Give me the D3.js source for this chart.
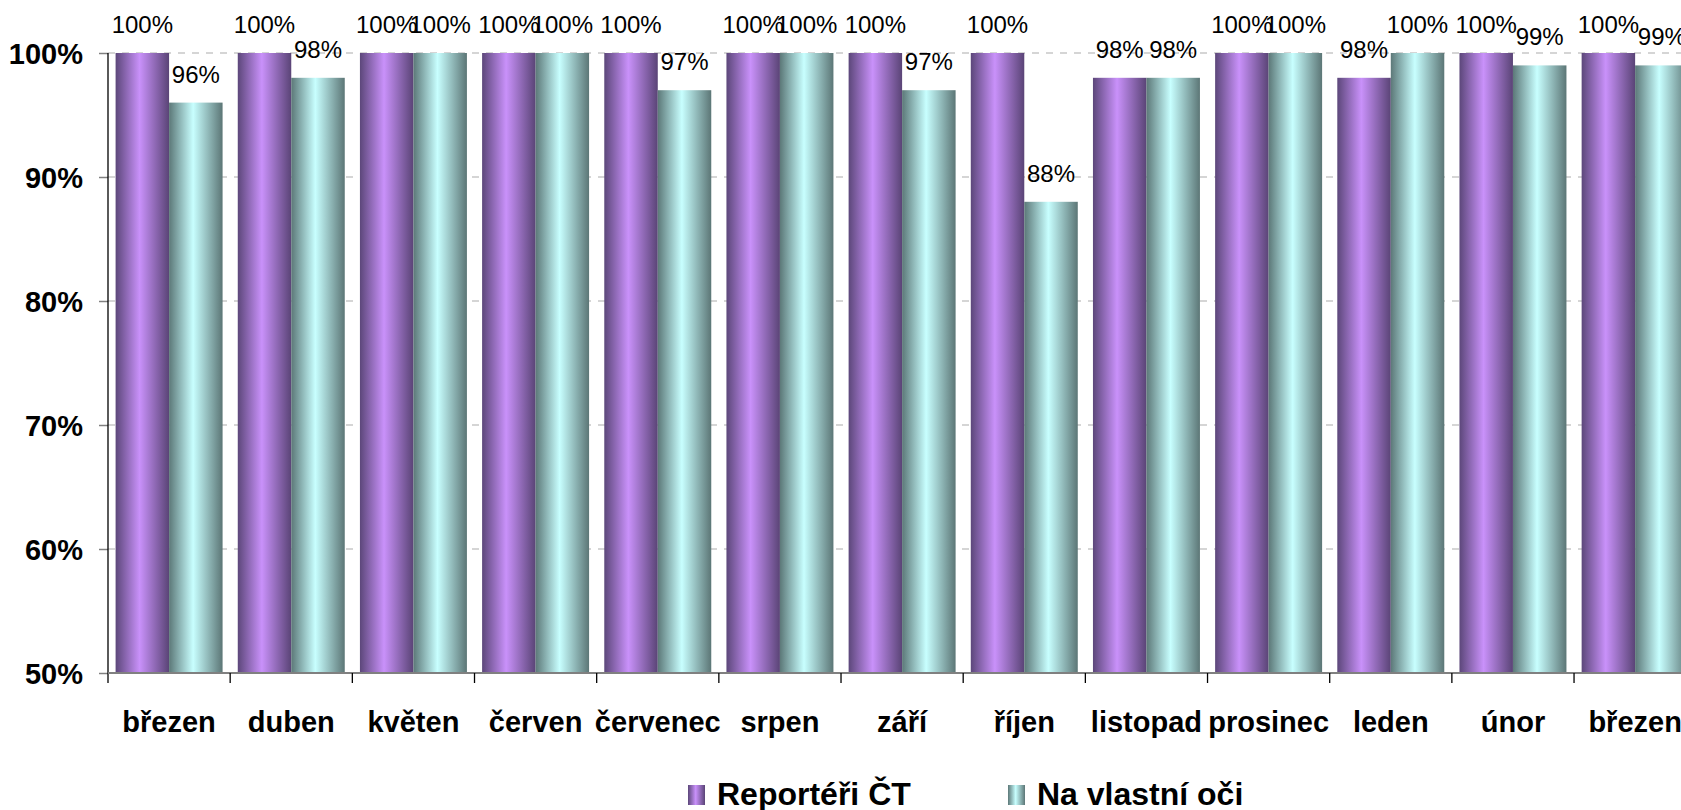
<!DOCTYPE html>
<html><head><meta charset="utf-8">
<script src="https://cdn.jsdelivr.net/npm/d3@7/dist/d3.min.js"></script>
<style>body{margin:0;background:#fff}svg{display:block}text{font-family:"Liberation Sans",Arial,sans-serif}</style>
</head><body><svg id="c" width="1681" height="810"></svg>
<script>
const categories = ["březen","duben","květen","červen","červenec","srpen","září","říjen","listopad","prosinec","leden","únor","březen "];
const seriesNames = ["Reportéři ČT","Na vlastní oči"];
const reporteri = [100,100,100,100,100,100,100,100,98,100,98,100,100];
const naVlastniOci = [96,98,100,100,97,100,97,88,98,100,100,99,99];
const yTicks = [50,60,70,80,90,100];

const svg = d3.select("#c");
const defs = svg.append("defs");
function grad(id, dark1, light, dark2){
  const g = defs.append("linearGradient").attr("id", id).attr("x1","0").attr("x2","1").attr("y1","0").attr("y2","0");
  g.append("stop").attr("offset","0").attr("stop-color",dark1);
  g.append("stop").attr("offset","0.45").attr("stop-color",light);
  g.append("stop").attr("offset","1").attr("stop-color",dark2);
}
grad("gP","#5c477a","#c991fa","#5a4476");
grad("gT","#5c7878","#c8ffff","#5c7676");
const fills = ["url(#gP)","url(#gT)"];

const left = 108, step = 122.17;
const x = d3.scaleBand().domain(categories).range([left, left + step*categories.length]).padding(0);
const xs = d3.scaleBand().domain([0,1]).range([0, x.bandwidth()]).paddingInner(0).paddingOuter(0.142);
const y = d3.scaleLinear().domain([50,100]).range([673,53]);

// gridlines
svg.append("g").selectAll("line").data(yTicks.filter(t=>t>50)).join("line")
  .attr("x1", left).attr("x2", 1681).attr("y1", d=>y(d)).attr("y2", d=>y(d))
  .attr("stroke","#c8c8c8").attr("stroke-width",1.3).attr("stroke-dasharray","7,7");

// bars
const data = categories.map((c,i)=>({c, v:[reporteri[i], naVlastniOci[i]]}));
const groups = svg.append("g").selectAll("g").data(data).join("g")
  .attr("transform", d=>`translate(${x(d.c)},0)`);
groups.selectAll("rect").data(d=>d.v.map((v,k)=>({v,k}))).join("rect")
  .attr("x", d=>xs(d.k)).attr("width", xs.bandwidth())
  .attr("y", d=>y(d.v)).attr("height", d=>y(50)-y(d.v))
  .attr("fill", d=>fills[d.k]);
groups.selectAll("text").data(d=>d.v.map((v,k)=>({v,k}))).join("text")
  .attr("x", d=>xs(d.k)+xs.bandwidth()/2).attr("y", d=>y(d.v)-20)
  .attr("text-anchor","middle").attr("font-size",24).attr("fill","#000")
  .text(d=>d.v+"%");

// y axis
const yAxis = d3.axisLeft(y).tickValues(yTicks).tickSize(9).tickFormat(d=>d+"%");
const ya = svg.append("g").attr("transform",`translate(${left},0)`).call(yAxis);
ya.select(".domain").remove();
ya.selectAll(".tick line").attr("stroke","#808080").attr("stroke-width",1.5);
ya.selectAll(".tick text").attr("x",-25).attr("dy","0.36em").attr("font-size",29).attr("font-weight","bold")
  .attr("font-family","Liberation Sans, Arial, sans-serif").attr("fill","#000");
svg.append("line").attr("x1",left).attr("x2",left).attr("y1",y(100)).attr("y2",y(50)+10).attr("stroke","#000").attr("stroke-width",1.3);

// x axis
svg.append("line").attr("x1",left).attr("x2",1681).attr("y1",y(50)).attr("y2",y(50)).attr("stroke","#808080").attr("stroke-width",2);
const xa = svg.append("g").attr("transform",`translate(0,${y(50)})`)
  .call(d3.axisBottom(x).tickSize(0).tickFormat(d=>d.trim()));
xa.select(".domain").remove();
xa.selectAll(".tick text").attr("y",59).attr("dy",0).attr("font-size",29).attr("font-weight","bold")
  .attr("font-family","Liberation Sans, Arial, sans-serif").attr("fill","#000");
svg.append("g").selectAll("line").data(categories.slice(1)).join("line")
  .attr("x1", d=>x(d)).attr("x2", d=>x(d)).attr("y1", y(50)).attr("y2", y(50)+10)
  .attr("stroke","#000").attr("stroke-width",1.3);

// legend
const legend = [{x:688, tx:717},{x:1008, tx:1037}];
legend.forEach((l,i)=>{
  svg.append("rect").attr("x",l.x).attr("y",785).attr("width",17).attr("height",20).attr("fill",fills[i]);
  svg.append("text").attr("x",l.tx).attr("y",805).attr("font-size",32).attr("font-weight","bold")
    .text(seriesNames[i]);
});
</script></body></html>
